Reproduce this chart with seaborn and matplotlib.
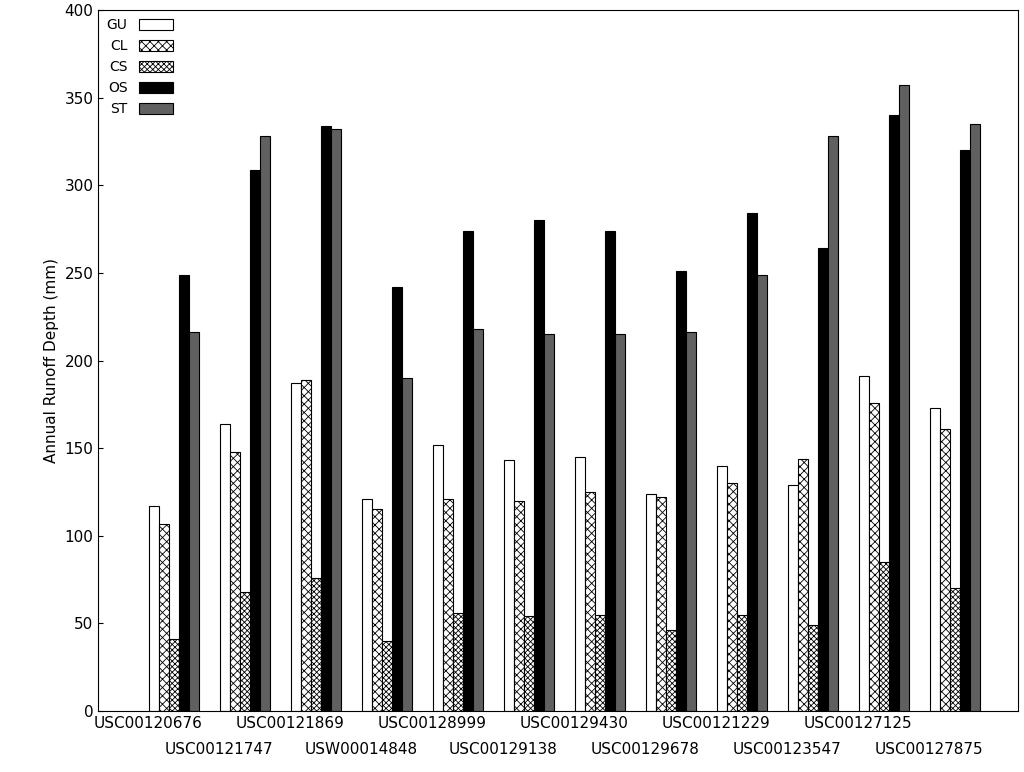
import pandas as pd
import numpy as np
import matplotlib
matplotlib.use("Agg")
import matplotlib.pyplot as plt
import seaborn as sns

stations = ["USC00120676", "USC00121747", "USC00121869", "USW00014848",
            "USC00128999", "USC00129138", "USC00129430", "USC00129678",
            "USC00121229", "USC00123547", "USC00127125", "USC00127875"]
methods = ["GU", "CL", "CS", "OS", "ST"]
gu = [117, 164, 187, 121, 152, 143, 145, 124, 140, 129, 191, 173]
cl = [107, 148, 189, 115, 121, 120, 125, 122, 130, 144, 176, 161]
cs = [41, 68, 76, 40, 56, 54, 55, 46, 55, 49, 85, 70]
os_ = [249, 309, 334, 242, 274, 280, 274, 251, 284, 264, 340, 320]
st = [216, 328, 332, 190, 218, 215, 215, 216, 249, 328, 357, 335]

df = pd.DataFrame({"station": stations, "GU": gu, "CL": cl, "CS": cs, "OS": os_, "ST": st})
df = df.melt(id_vars="station", var_name="method", value_name="depth")

colors = ["white", "white", "white", "black", "#606060"]
hatches = ["", "xxxx", "xxxxxx", "", ""]

sns.set_style("ticks")
plt.rcParams["hatch.linewidth"] = 0.6
plt.rcParams["text.color"] = "black"
plt.rcParams["xtick.color"] = "black"
plt.rcParams["ytick.color"] = "black"
plt.rcParams["axes.labelcolor"] = "black"
fig, ax = plt.subplots(figsize=(10.24, 7.72), dpi=100)
sns.barplot(data=df, x="station", y="depth", hue="method", hue_order=methods,
            order=stations, palette=colors, width=0.7, edgecolor="black",
            linewidth=0.8, ax=ax, saturation=1)

for cont, h in zip(ax.containers, hatches):
    for p in cont:
        p.set_hatch(h)

ax.set_xlim(-1.07, 11.89)
ax.set_ylim(0, 400)
ax.set_yticks(range(0, 401, 50))
pos = np.arange(12) - 0.37
ax.set_xticks(pos[0::2])
ax.set_xticklabels(stations[0::2], fontsize=11)
ax.set_xticks(pos[1::2], minor=True)
ax.set_xticklabels(stations[1::2], minor=True, fontsize=11)
ax.tick_params(axis="x", which="both", length=0)
ax.tick_params(axis="x", which="minor", pad=22)
ax.tick_params(axis="y", direction="in", labelsize=11)
ax.set_xlabel("")
ax.set_ylabel("Annual Runoff Depth (mm)", fontsize=11)
for s in ax.spines.values():
    s.set_visible(True)
    s.set_color("black")

handles, _ = ax.get_legend_handles_labels()
for hd, h in zip(handles, hatches):
    hd.set_hatch(h)
ax.legend(handles, methods, loc="upper left", frameon=False, markerfirst=False,
          fontsize=10, handlelength=2.5, handleheight=0.8, labelspacing=0.5,
          borderaxespad=0.2)

plt.subplots_adjust(left=0.096, right=0.994, top=0.987, bottom=0.079)
fig.savefig("out.png", dpi=100)
